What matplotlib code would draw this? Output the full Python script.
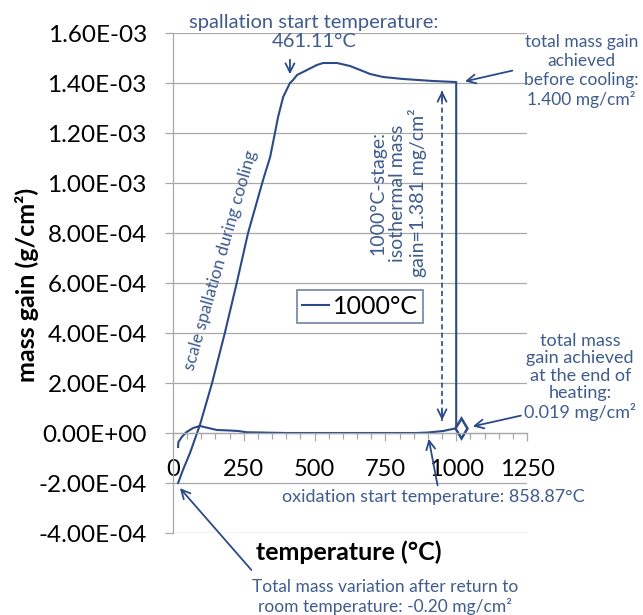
"""mass gain vs temperature for the 1000°C cycle."""

import matplotlib
matplotlib.use("Agg")
import matplotlib.pyplot as plt
from matplotlib.ticker import FuncFormatter, MultipleLocator

plt.rcParams["font.family"] = ["Lato", "DejaVu Sans"]

# heating ramp (°C, g/cm²)
heat_temp = [18, 19, 31, 48, 71, 95, 155, 200, 230, 260, 400, 600, 800, 860, 900, 954, 1000]
heat_gain = [-0.56e-4, -0.36e-4, -0.16e-4, 0.04e-4, 0.2e-4, 0.28e-4, 0.12e-4, 0.1e-4,
             0.08e-4, 0.03e-4, 0.0, 0.0, 0.0, 0.0, 0.02e-4, 0.08e-4, 0.19e-4]

# isothermal stage at 1000°C
iso_temp = [1000, 1000]
iso_gain = [0.19e-4, 1.404e-3]

# cooling back to room temperature
cool_temp = [996, 919, 813, 742, 696, 661, 625, 579, 530, 508, 473, 438, 424, 413,
             389, 371, 360, 343, 318, 265, 225, 183, 138, 95, 60, 35, 18]
cool_gain = [1.404e-3, 1.408e-3, 1.416e-3, 1.424e-3, 1.436e-3, 1.452e-3, 1.468e-3,
             1.48e-3, 1.48e-3, 1.472e-3, 1.452e-3, 1.432e-3, 1.412e-3, 1.40e-3,
             1.344e-3, 1.264e-3, 1.2e-3, 1.104e-3, 1.012e-3, 0.8e-3, 0.6e-3, 0.4e-3,
             0.2e-3, 0.032e-3, -0.08e-3, -0.148e-3, -0.2e-3]

series_label = "1000°C"
x_ticks = [0, 250, 500, 750, 1000, 1250]

LINE = "#2b4a87"
NOTE = "#3e5c8e"
GRID = "#a8a8a8"

temp = heat_temp + iso_temp[1:] + cool_temp
gain = heat_gain + iso_gain[1:] + cool_gain

fig = plt.figure(figsize=(6.43, 6.15), dpi=100)
ax = fig.add_axes([173 / 643, 1 - 533 / 615, 354 / 643, 500 / 615])

ax.plot(temp, gain, color=LINE, lw=1.5, label=series_label)

ax.set_xlim(0, 1250)
ax.set_ylim(-4e-4, 1.6e-3)
ax.set_xticks(x_ticks)
ax.xaxis.set_minor_locator(MultipleLocator(50))
ax.yaxis.set_major_locator(MultipleLocator(2e-4))
ax.yaxis.set_major_formatter(FuncFormatter(lambda v, _: f"{v:.2E}"))

ax.grid(axis="y", color=GRID, lw=0.9)
ax.set_axisbelow(True)
for side in ("top", "right"):
    ax.spines[side].set_visible(False)
ax.spines["bottom"].set_position(("data", 0))
ax.spines["bottom"].set_color(GRID)
ax.spines["left"].set_color(GRID)
ax.spines["bottom"].set_linewidth(0.9)
ax.spines["left"].set_linewidth(0.9)

ax.tick_params(axis="x", which="both", direction="out", color=GRID, width=0.9)
ax.tick_params(axis="x", which="major", length=5.5, pad=13, labelsize=17)
ax.tick_params(axis="x", which="minor", length=4.5)
ax.tick_params(axis="y", direction="out", length=5.8, color=GRID, width=0.9,
               pad=13, labelsize=17.5)

leg = ax.legend(loc="center", bbox_to_anchor=(0.56, 0.5016),
                bbox_transform=fig.transFigure, fontsize=18, fancybox=False,
                handlelength=1.1, handletextpad=0.15, borderpad=0.2,
                borderaxespad=0)
leg.get_frame().set_edgecolor("#4a6590")
leg.get_frame().set_linewidth(1.2)

fig.text(27 / 643, 1 - 285 / 615, "mass gain (g/cm²)", rotation=90,
         ha="center", va="center", fontsize=18, fontweight="bold")
fig.text(349 / 643, 1 - 552 / 615, "temperature (°C)", ha="center",
         va="center", fontsize=18, fontweight="bold")

arrow = dict(arrowstyle="->", color=LINE, lw=1.3, mutation_scale=16)
note = dict(color=NOTE, fontsize=13, ha="center", va="center",
            linespacing=1.15, clip_on=False)

ax.text(498, 1.604e-3, "spallation start temperature:\n461.11°C",
        **{**note, "fontsize": 14.5})
ax.annotate("", xy=(413, 1.424e-3), xytext=(413, 1.504e-3), arrowprops=arrow)

ax.text(1443, 1.448e-3, "total mass gain\nachieved\nbefore cooling:\n1.400 mg/cm²",
        **{**note, "fontsize": 12.5, "linespacing": 1.2})
ax.annotate("", xy=(1021, 1.404e-3), xytext=(1208, 1.452e-3), arrowprops=arrow,
            annotation_clip=False)

ax.text(795, 0.96e-3, "1000°C-stage:\nisothermal mass\ngain=1.381 mg/cm²",
        rotation=90, **{**note, "fontsize": 14})

ax.text(170, 0.692e-3, "scale spallation during cooling", rotation=74,
        rotation_mode="anchor", **{**note, "fontsize": 12.5})

# dashed double arrow for the isothermal gain
ax.plot([950, 950], [0.05e-3, 1.37e-3], color=LINE, lw=1.2, ls=(0, (3, 2)))
ax.annotate("", xy=(950, 0.04e-3), xytext=(950, 0.1e-3), arrowprops=arrow)
ax.annotate("", xy=(950, 1.38e-3), xytext=(950, 1.32e-3), arrowprops=arrow)

ax.plot([1018], [0.02e-3], marker="d", ms=10, mfc="white", mec=LINE, mew=1.8,
        clip_on=False)

ax.text(1438, 0.224e-3,
        "total mass\ngain achieved\nat the end of\nheating:\n0.019 mg/cm²",
        **{**note, "fontsize": 13, "linespacing": 1.12})
ax.annotate("", xy=(1049, 0.024e-3), xytext=(1238, 0.072e-3), arrowprops=arrow,
            annotation_clip=False)

ax.text(385, -0.256e-3, "oxidation start temperature: 858.87°C",
        **{**note, "ha": "left"})
ax.annotate("", xy=(901, -0.012e-3), xytext=(936, -0.22e-3), arrowprops=arrow)

ax.text(749, -0.656e-3,
        "Total mass variation after return to\nroom temperature: -0.20 mg/cm²",
        **{**note, "fontsize": 12.5})
ax.annotate("", xy=(18, -0.212e-3), xytext=(283, -0.556e-3), arrowprops=arrow,
            annotation_clip=False)

fig.savefig("out.png", dpi=100)
